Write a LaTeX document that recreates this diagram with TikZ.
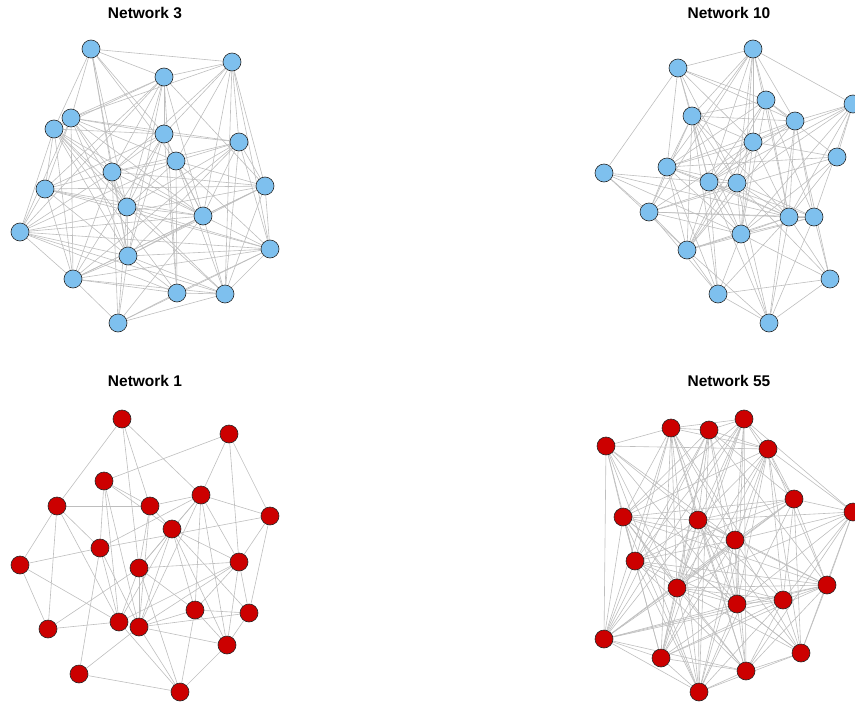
\documentclass[tikz,border=0pt]{standalone}
\usepackage{fontspec}
\setmainfont{Liberation Sans}
\usetikzlibrary{backgrounds}
\definecolor{vblue}{RGB}{126,192,238}
\definecolor{vred}{RGB}{204,0,0}
\definecolor{edgegray}{RGB}{190,190,190}
\tikzset{
  vtx/.style={circle, draw=black!85, line width=0.6pt, minimum size=18pt, inner sep=0pt},
  bluev/.style={vtx, fill=vblue},
  redv/.style={vtx, fill=vred},
  edge/.style={draw=edgegray, line width=0.6pt},
  ttl/.style={font=\fontsize{15.5}{18}\selectfont\bfseries, inner sep=0pt}
}
\begin{document}
\begin{tikzpicture}[x=1pt,y=-1pt]
\useasboundingbox (0,0) rectangle (855,707);
\clip (0,0) rectangle (855,707);
% titles
\node[ttl] (t3) at (145,13) {Network 3};
\node[ttl] (t10) at (729,13) {Network 10};
\node[ttl] (t1) at (145,381) {Network 1};
\node[ttl] (t55) at (729,381) {Network 55};
% Network 3
\foreach \n/\x/\y in {1/91/49,2/232/62,3/164/77,4/71/118,5/54/129,6/164/134,7/239/142,8/176/161,9/112/172,10/45/189,11/265/186,12/127/207,13/203/216,14/20/232,15/270/249,16/128/256,17/73/279,18/177/293,19/225/294,20/118/323}
  \node[bluev] (c\n) at (\x,\y) {};
% Network 10
\foreach \n/\x/\y in {1/753/49,2/678/68,3/766/100,4/853/104,5/692/116,6/795/121,7/753/142,8/837/157,9/667/167,10/604/173,11/709/182,12/737/183,13/649/212,14/789/217,15/814/217,16/741/234,17/687/250,18/830/279,19/718/294,20/769/323}
  \node[bluev] (b\n) at (\x,\y) {};
% Network 1
\foreach \n/\x/\y in {1/122/419,2/229/434,3/104/481,4/201/495,5/57/506,6/150/506,7/270/516,8/172/529,9/100/548,10/20/565,11/139/568,12/239/562,13/195/610,14/249/613,15/119/622,16/139/627,17/48/629,18/227/645,19/79/674,20/180/692}
  \node[redv] (a\n) at (\x,\y) {};
% Network 55
\foreach \n/\x/\y in {1/744/419,2/671/428,3/709/430,4/606/446,5/768/449,6/794/499,7/853/512,8/623/517,9/698/520,10/735/540,11/635/561,12/827/585,13/677/588,14/737/604,15/783/600,16/604/639,17/661/658,18/801/653,19/746/671,20/699/692}
  \node[redv] (d\n) at (\x,\y) {};
\begin{pgfonlayer}{background}
% Network 3 edges
\foreach \u/\v in {1/2,1/3,1/4,1/5,1/6,1/8,1/9,1/12,1/16,
  2/3,2/4,2/6,2/7,2/8,2/9,2/11,2/15,2/19,2/13,
  3/4,3/5,3/6,3/9,3/10,3/12,3/13,3/16,3/18,3/11,3/14,
  4/5,4/6,4/7,4/8,4/10,4/12,4/13,4/16,4/14,4/17,4/9,
  5/6,5/10,5/14,5/9,5/12,5/13,5/18,5/17,5/16,5/19,
  6/7,6/8,6/9,6/12,6/13,6/16,6/17,6/18,6/10,
  7/8,7/11,7/9,7/13,7/12,7/15,7/19,7/16,7/17,
  8/9,8/12,8/18,8/11,8/14,8/19,8/13,8/15,
  9/10,9/12,9/13,9/14,9/16,9/17,9/11,9/20,
  10/11,10/12,10/14,10/17,10/13,10/16,10/15,
  11/13,11/14,11/15,11/16,11/17,11/19,
  12/13,12/16,12/20,12/15,12/19,
  13/14,13/15,13/16,13/19,13/17,13/20,
  14/16,14/17,14/18,14/19,14/15,
  15/16,15/18,15/19,15/20,15/17,
  16/17,16/18,16/20,16/19,
  17/18,17/20,17/19,18/19,18/20,19/20}
  \draw[edge] (c\u) -- (c\v);
% Network 10 edges
\foreach \u/\v in {1/2,1/3,1/4,1/5,1/6,1/7,1/9,1/11,1/12,1/13,1/14,1/16,
  2/3,2/5,2/6,2/7,2/10,2/11,2/12,2/9,
  3/5,3/6,3/9,3/11,3/14,3/15,3/16,3/17,3/8,
  4/6,4/7,4/8,4/12,4/14,4/15,4/16,4/11,
  5/6,5/7,5/9,5/11,5/12,5/13,5/14,5/17,5/16,5/19,
  6/7,6/9,6/11,6/14,6/15,6/18,6/17,6/20,
  7/9,7/11,7/12,7/13,7/14,7/16,7/17,7/8,
  8/9,8/14,8/16,8/13,
  9/11,9/12,9/13,9/14,9/17,9/16,9/19,
  10/11,10/13,10/17,10/14,10/16,
  11/12,11/14,11/15,11/16,11/17,11/19,11/20,
  12/13,12/14,12/16,12/17,12/15,12/18,12/20,
  13/14,13/16,13/17,13/19,13/15,
  14/15,14/16,14/17,14/18,14/19,14/20,
  15/16,15/17,15/18,15/20,
  16/17,16/18,16/19,16/20,
  17/19,17/20,18/19,18/20,19/20}
  \draw[edge] (b\u) -- (b\v);
% Network 1 edges
\foreach \u/\v in {1/5,1/6,1/11,1/4,
  2/3,2/4,2/12,2/7,
  3/6,3/8,3/9,3/15,3/16,
  4/6,4/7,4/8,4/9,4/11,4/12,4/13,4/18,4/16,
  5/6,5/9,5/10,5/17,5/15,
  6/8,6/11,6/16,
  7/9,7/12,7/14,
  8/11,8/12,8/13,8/14,8/15,8/16,8/18,
  9/10,9/15,9/16,9/19,
  10/17,10/15,
  11/12,11/13,11/15,11/16,11/17,11/20,
  12/13,12/14,12/15,12/16,12/18,
  13/14,13/16,13/18,13/20,
  14/16,14/18,
  15/17,15/20,
  16/18,16/19,16/20,
  18/20,19/20}
  \draw[edge] (a\u) -- (a\v);
% Network 55 edges
\foreach \u/\v in {4/2,4/5,4/8,4/11,4/9,4/14,4/13,4/16,4/20,4/10,
  2/3,2/1,2/5,2/8,2/9,2/11,2/13,2/14,2/16,2/17,2/19,2/20,2/15,2/10,
  3/1,3/5,3/8,3/9,3/10,3/11,3/13,3/14,3/17,3/20,3/6,3/12,3/16,
  1/5,1/7,1/6,1/9,1/10,1/11,1/13,1/14,1/16,1/17,1/19,1/8,
  5/6,5/7,5/8,5/9,5/10,5/12,5/13,5/15,5/18,5/17,5/14,5/20,
  6/7,6/8,6/9,6/10,6/11,6/13,6/15,6/12,6/16,6/18,6/20,
  7/9,7/10,7/12,7/15,7/18,7/14,7/13,7/19,
  8/9,8/10,8/11,8/12,8/13,8/16,8/17,8/18,8/19,8/20,8/14,
  9/10,9/11,9/12,9/13,9/14,9/15,9/17,9/18,9/19,9/20,9/16,
  10/11,10/12,10/13,10/14,10/16,10/17,10/18,10/19,10/20,
  11/12,11/13,11/14,11/15,11/16,11/17,11/19,11/20,
  12/13,12/14,12/15,12/16,12/17,12/18,12/19,
  13/14,13/15,13/16,13/17,13/18,13/19,13/20,
  14/15,14/16,14/17,14/19,14/20,14/18,
  15/16,15/17,15/19,15/20,15/18,
  16/17,16/19,16/20,
  17/19,17/20,18/19,18/20,19/20}
  \draw[edge] (d\u) -- (d\v);
\end{pgfonlayer}
\end{tikzpicture}
\end{document}
